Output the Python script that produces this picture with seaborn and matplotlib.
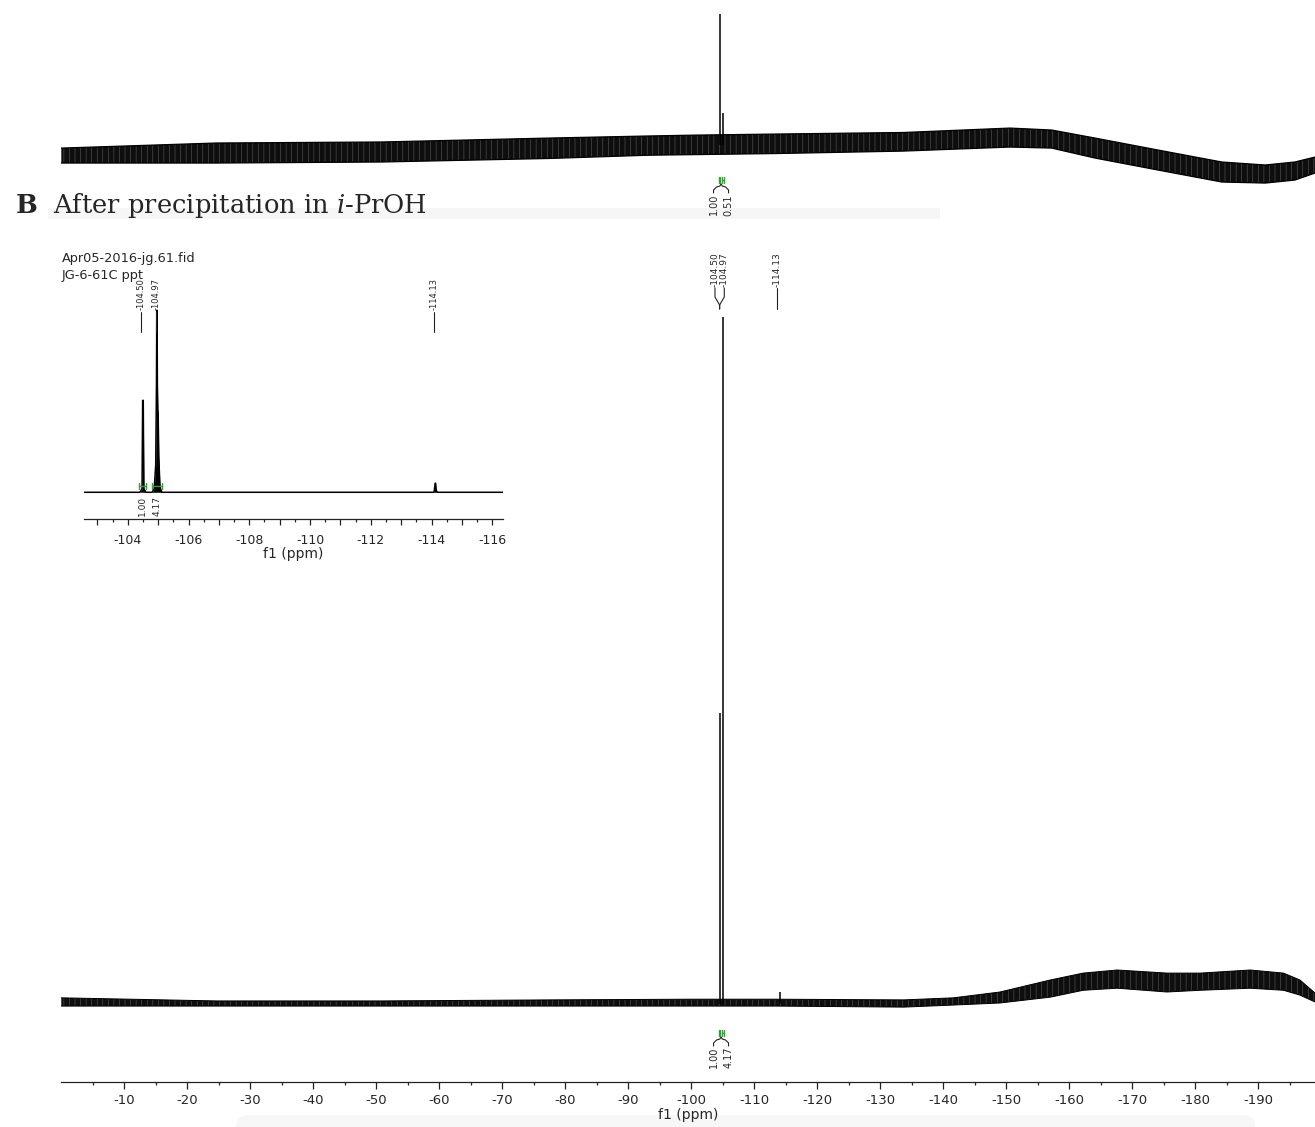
import matplotlib
matplotlib.use("Agg")
import matplotlib.pyplot as plt
from matplotlib.lines import Line2D
from matplotlib.patches import Rectangle, FancyBboxPatch
from matplotlib.ticker import FixedLocator, MultipleLocator, FuncFormatter
import numpy as np
import pandas as pd
import seaborn as sns

# ------------------------------------------------------------------ data
# Panel A (upper spectrum, only its lower part is visible): noise envelope
a_env_ppm = [0, -24.6, -50.9, -77.3, -93.1, -100.9, -113.4, -133.7, -150.6,
             -157.2, -164.1, -174.1, -184.2, -191.1, -195.8, -199.0]
a_env_hi = [1.5, 5.4, 6.2, 9.2, 10.8, 11.5, 12.3, 13.5, 16.9,
            15.4, 9.2, 0.0, -9.2, -11.5, -9.2, -5.4]
a_env_lo = [-10.0, -10.0, -9.2, -6.5, -4.0, -3.5, -2.7, -0.8, 2.3,
            1.5, -6.2, -15.4, -24.6, -25.4, -23.1, -17.7]
a_peak_ppm = [-104.50, -104.97]
a_peak_int = [104.6, 28.5]
a_int_labels = ["1.00", "0.51"]

# Panel B (full spectrum)
b_env_ppm = [0, -24.6, -50.9, -77.3, -100.0, -113.4, -133.7, -141.6, -149.0,
             -157.0, -162.2, -167.6, -175.5, -180.8, -188.7, -194.0, -196.6, -199.0]
b_env_hi = [0.9, 0.45, 0.45, 0.6, 0.7, 0.7, 0.6, 0.9, 1.75,
            3.5, 4.5, 4.95, 4.5, 4.5, 4.95, 4.5, 3.5, 1.6]
b_env_lo = [-0.3, -0.3, -0.3, -0.3, -0.3, -0.3, -0.45, -0.15, 0.15,
            1.0, 2.0, 2.3, 1.75, 2.0, 2.3, 2.0, 1.3, 0.3]
b_peak_ppm = [-104.50, -104.97, -114.13]
b_peak_int = [42.4, 100.0, 1.75]
b_int_labels = ["1.00", "4.17"]
int_ranges = [(-104.37, -104.59), (-104.81, -105.12)]

# Inset (zoom -102.6 .. -116.3 ppm)
ins_ppm = [-102.56, -104.40, -104.47, -104.49, -104.51, -104.53, -104.60,
           -104.80, -104.87, -104.92, -104.945, -104.955, -104.965, -104.975,
           -104.99, -105.00, -105.02, -105.06, -105.12,
           -114.08, -114.12, -114.13, -114.15, -114.20, -116.35]
ins_int = [0, 0, 2, 50.5, 50.5, 2, 0,
           0, 2, 15, 60, 100, 100, 60,
           44, 44, 20, 3, 0,
           0, 5, 5, 1, 0, 0]
ins_peak_ppm = [-104.50, -104.97, -114.13]
ins_int_labels = ["1.00", "4.17"]

main_ticks = list(range(-10, -191, -10))

# ------------------------------------------------------------------ style
sns.set_theme(style="white")
plt.rcParams["font.family"] = ["DejaVu Sans"]
plt.rcParams["axes.unicode_minus"] = False
plt.rcParams["mathtext.fontset"] = "custom"
plt.rcParams["mathtext.rm"] = "DejaVu Serif"
plt.rcParams["mathtext.it"] = "DejaVu Serif:italic"
plt.rcParams["mathtext.bf"] = "DejaVu Serif:bold"
plt.rcParams["hatch.linewidth"] = 0.4

W, H = 1315, 1127
fig = plt.figure(figsize=(W / 100, H / 100), dpi=100)
fig.patch.set_facecolor("white")
GREEN = "#3a9d3a"


def rect(x0, x1, ytop, ybot):
    return [x0 / W, 1 - ybot / H, (x1 - x0) / W, (ybot - ytop) / H]


def fline(xs, ys, **kw):
    fig.add_artist(Line2D([x / W for x in xs], [1 - y / H for y in ys],
                          transform=fig.transFigure, **kw))


def ftext(x, y, s, **kw):
    fig.text(x / W, 1 - y / H, s, **kw)


def px_of(ax, ppm):
    return ax.transData.transform((ppm, 0))[0]


# faint background artefacts
fig.add_artist(Rectangle((48 / W, 1 - 219 / H), (940 - 48) / W, 11 / H,
                         transform=fig.transFigure, color="#f6f6f6", zorder=0, lw=0))
fig.add_artist(FancyBboxPatch((236 / W, 1 - 1140 / H), (1255 - 236) / W, 25 / H,
                              boxstyle="round,pad=0,rounding_size=0.01",
                              transform=fig.transFigure, color="#f7f7f7", zorder=0, lw=0))

# ------------------------------------------------------------------ panel A
axA = fig.add_axes(rect(61.3, 1315, 0, 230))
axA.patch.set_alpha(0)
axA.set_xlim(0, -199.0)
axA.set_ylim(-61.5, 115.4)
axA.axis("off")
axA.fill_between(a_env_ppm, a_env_lo, a_env_hi, facecolor="#0e0e0e",
                 edgecolor="#5a5a5a", hatch="|||", lw=0)
sns.lineplot(x=a_env_ppm, y=a_env_hi, ax=axA, color="black", lw=0.9, estimator=None, sort=False)
sns.lineplot(x=a_env_ppm, y=a_env_lo, ax=axA, color="black", lw=0.9, estimator=None, sort=False)
a_mid = (np.array(a_env_hi) + np.array(a_env_lo)) / 2
a_base = np.interp(-np.array(a_peak_ppm), -np.array(a_env_ppm), a_mid)
axA.vlines(a_peak_ppm, a_base, a_peak_int, color="black", lw=1.1)

# ------------------------------------------------------------------ panel B
axB = fig.add_axes(rect(61.3, 1315, 240, 1082))
axB.patch.set_alpha(0)
axB.set_xlim(0, -199.0)
axB.set_ylim(-11.35, 111.2)
axB.fill_between(b_env_ppm, b_env_lo, b_env_hi, facecolor="#0e0e0e",
                 edgecolor="#5a5a5a", hatch="|||", lw=0)
sns.lineplot(x=b_env_ppm, y=b_env_hi, ax=axB, color="black", lw=0.7, estimator=None, sort=False)
sns.lineplot(x=b_env_ppm, y=b_env_lo, ax=axB, color="black", lw=0.7, estimator=None, sort=False)
axB.vlines(b_peak_ppm, 0, b_peak_int, color="black", lw=1.1)
for s in ["top", "left", "right"]:
    axB.spines[s].set_visible(False)
axB.spines["bottom"].set_color("#222222")
axB.spines["bottom"].set_linewidth(0.9)
axB.set_yticks([])
axB.xaxis.set_major_locator(FixedLocator(main_ticks))
axB.xaxis.set_minor_locator(FixedLocator([t + 5 for t in main_ticks] + [main_ticks[-1] - 5]))
axB.tick_params(axis="x", which="major", direction="out", length=5, width=0.9,
                color="#222222", labelsize=9.5, pad=4, bottom=True)
axB.tick_params(axis="x", which="minor", direction="out", length=2.5, width=0.9,
                color="#222222", bottom=True)
axB.set_xlabel("f1 (ppm)", fontsize=10, labelpad=0)

# ------------------------------------------------------------------ inset
axI = fig.add_axes(rect(84, 503, 250, 519.3))
axI.patch.set_alpha(0)
axI.set_xlim(-102.56, -116.35)
axI.set_ylim(-14.84, 133.1)
axI.fill_between(ins_ppm, 0, ins_int, color="black", lw=0)
sns.lineplot(x=ins_ppm, y=ins_int, ax=axI, color="black", lw=1.1, estimator=None, sort=False)
for s in ["top", "left", "right"]:
    axI.spines[s].set_visible(False)
axI.spines["bottom"].set_color("#222222")
axI.spines["bottom"].set_linewidth(0.9)
axI.set_yticks([])
axI.xaxis.set_major_locator(MultipleLocator(1))
axI.xaxis.set_minor_locator(MultipleLocator(0.5))
axI.xaxis.set_major_formatter(FuncFormatter(lambda v, p: f"{v:.0f}" if int(round(v)) % 2 == 0 else ""))
axI.tick_params(axis="x", which="major", direction="out", length=4.5, width=0.9,
                color="#222222", labelsize=9, pad=6, bottom=True)
axI.tick_params(axis="x", which="minor", direction="out", length=2.3, width=0.9,
                color="#222222", bottom=True)
axI.set_xlabel("f1 (ppm)", fontsize=10, labelpad=0)

# ------------------------------------------------------------------ annotations
fig.canvas.draw()


def integral_marks(ax, ytop, ybot):
    for lo, hi in int_ranges:
        x0, x1 = px_of(ax, lo), px_of(ax, hi)
        ym = (ytop + ybot) / 2
        fline([x0, x1], [ym, ym], color=GREEN, lw=1.0)
        fline([x0, x0], [ytop, ybot], color=GREEN, lw=1.0)
        fline([x1, x1], [ytop, ybot], color=GREEN, lw=1.0)


def bracket_labels(ax, labels, ytop, fs):
    c = np.mean([px_of(ax, (lo + hi) / 2) for lo, hi in int_ranges])
    xs = [c - 7.5, c + 7.5]
    fline([xs[0], xs[0], xs[0] + 3, c - 1.2, c, c + 1.2, xs[1] - 3, xs[1], xs[1]],
          [ytop - 1, ytop - 4, ytop - 7, ytop - 8, ytop - 10, ytop - 8, ytop - 7, ytop - 4, ytop - 1],
          color="#222222", lw=0.8)
    for x, s in zip(xs, labels):
        ftext(x, ytop, s, rotation=90, ha="center", va="top", fontsize=fs)


def peak_labels(ax, ppms, ybot, fs, group_gap=8, spread=9.3, llen=22):
    pxs = [px_of(ax, p) for p in ppms]
    used = set()
    for i, p in enumerate(pxs):
        if i in used:
            continue
        grp = [j for j in range(len(pxs)) if abs(pxs[j] - p) < group_gap]
        used.update(grp)
        if len(grp) > 1:
            c = np.mean([pxs[j] for j in grp])
            n = len(grp)
            for k, j in enumerate(grp):
                lx = c - 1.5 + (k - (n - 1) / 2) * spread
                ftext(lx, ybot, f"{ppms[j]:.2f}", rotation=90, ha="center", va="bottom", fontsize=fs)
                fline([lx, lx, c - 1.5, c - 1.5], [ybot + 1, ybot + 10, ybot + 18, ybot + llen],
                      color="#222222", lw=0.8)
        else:
            lx = p - 3
            ftext(lx, ybot, f"{ppms[i]:.2f}", rotation=90, ha="center", va="bottom", fontsize=fs)
            fline([lx, lx], [ybot + 1, ybot + llen], color="#222222", lw=0.8)


# panel A integrals
integral_marks(axA, 177, 183)
bracket_labels(axA, a_int_labels, 194, 7)
# panel B integrals and peak picks
integral_marks(axB, 1030, 1036)
bracket_labels(axB, b_int_labels, 1047, 7)
peak_labels(axB, b_peak_ppm, 287, 6.5)
# inset integrals and peak picks
for (lo, hi), s in zip(int_ranges, ins_int_labels):
    x0, x1 = px_of(axI, lo), px_of(axI, hi)
    fline([x0, x1], [486, 486], color=GREEN, lw=1.0)
    fline([x0, x0], [483, 489], color=GREEN, lw=1.0)
    fline([x1, x1], [483, 489], color=GREEN, lw=1.0)
    ftext((x0 + x1) / 2, 496, s, rotation=90, ha="center", va="top", fontsize=6.5)
for p in ins_peak_ppm:
    lx = px_of(axI, p) - 1.5
    ftext(lx, 310, f"{p:.2f}", rotation=90, ha="center", va="bottom", fontsize=6)
    fline([lx, lx], [312, 332], color="#222222", lw=0.8)

ftext(62, 258, "Apr05-2016-jg.61.fid", ha="left", va="center", fontsize=9.3)
ftext(62, 275, "JG-6-61C ppt", ha="left", va="center", fontsize=9.3)

# title of panel B
ftext(15, 213, r"$\mathbf{B}$  After precipitation in $\mathit{i}$-PrOH",
      ha="left", va="baseline", fontsize=18.5, fontfamily="DejaVu Serif")

fig.savefig("out.png", dpi=100, facecolor="white")
